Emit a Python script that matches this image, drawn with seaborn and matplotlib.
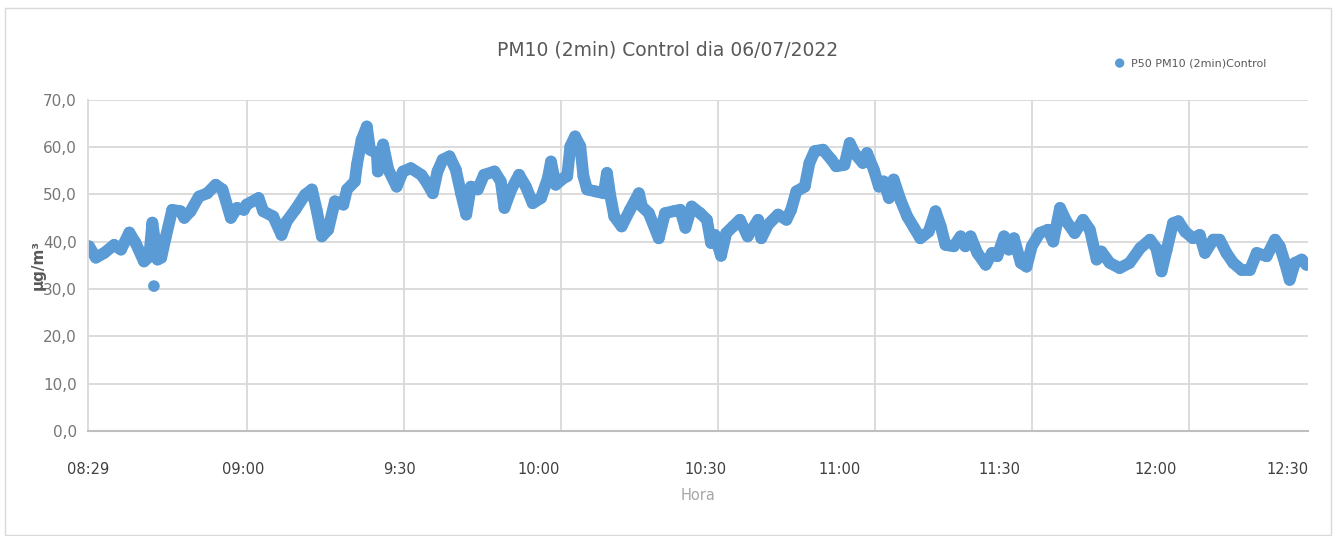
import matplotlib
matplotlib.use("Agg")
import matplotlib.pyplot as plt
import seaborn as sns
import pandas as pd
from matplotlib.patches import Rectangle

# ================= DATA =================
# minutes after 08:29 and PM10 concentration (ug/m3)
minutos = [0.8, 2.1, 3.7, 5.6, 6.9, 8.5, 9.7, 11.3, 12.3, 12.9, 13.9, 14.6, 15.5,
           16.7, 18.3, 19.0, 20.2, 21.8, 23.4, 25.0, 26.3, 27.9, 29.1, 30.4, 30.9,
           33.2, 34.1, 36.0, 37.6, 38.6, 40.2, 42.1, 43.4, 44.3, 45.3, 46.5, 47.8,
           49.4, 50.1, 51.6, 52.0, 52.9, 53.9, 54.5, 55.8, 56.0, 57.0, 58.0, 59.6,
           60.8, 62.3, 64.3, 65.2, 66.5, 67.4, 68.4, 69.7, 70.9, 71.9, 72.9, 73.8,
           75.1, 76.3, 78.3, 79.5, 80.2, 81.5, 83.0, 84.3, 85.6, 87.2, 88.5, 89.1,
           90.0, 91.5, 92.2, 92.8, 93.7, 94.7, 95.3, 96.0, 97.6, 99.2, 99.8, 100.4,
           101.2, 102.6, 104.2, 105.9, 106.5, 107.8, 109.7, 110.9, 112.5, 113.8,
           114.8, 116.0, 117.6, 118.9, 119.7, 120.4, 121.6, 122.6, 123.9, 125.2,
           126.7, 128.7, 129.3, 130.6, 132.5, 134.1, 135.0, 136.0, 137.6, 138.5,
           139.5, 141.1, 142.7, 143.6, 145.2, 146.2, 147.1, 148.7, 149.5, 150.8,
           151.8, 152.7, 153.7, 154.6, 155.9, 157.2, 158.5, 159.7, 161.3, 162.6,
           163.6, 164.5, 166.1, 167.4, 168.3, 169.3, 170.6, 172.2, 173.4, 174.4,
           175.7, 176.6, 177.6, 178.9, 180.0, 181.0, 182.5, 184.1, 185.1, 186.4,
           187.6, 189.2, 190.8, 192.1, 193.4, 194.3, 195.9, 197.8, 199.7, 201.7,
           203.6, 204.8, 205.8, 206.8, 208.0, 209.0, 210.3, 211.8, 213.1, 214.1,
           215.7, 216.9, 218.2, 219.5, 221.1, 222.7, 224.0, 225.9, 227.5, 228.4,
           229.4, 230.3, 231.3, 232.6, 233.5]
pm10 = [39.0, 36.6, 37.6, 39.3, 38.3, 41.9, 39.7, 35.8, 36.8, 44.0, 36.2, 36.6, 41.1,
        46.7, 46.4, 45.0, 46.4, 49.5, 50.2, 52.0, 51.0, 45.0, 47.1, 46.7, 47.8,
        49.2, 46.4, 45.3, 41.4, 44.3, 46.7, 49.9, 51.0, 46.7, 41.1, 42.5, 48.5,
        47.8, 51.0, 52.7, 56.2, 61.5, 64.3, 59.4, 58.7, 54.8, 60.5, 55.2, 51.6,
        54.8, 55.5, 54.1, 52.7, 50.2, 54.8, 57.3, 58.0, 55.2, 50.2, 45.7, 51.6,
        51.0, 54.1, 54.8, 52.7, 47.1, 51.0, 54.1, 51.6, 48.1, 49.2, 53.4, 56.9,
        52.0, 53.4, 53.8, 60.1, 62.2, 60.1, 53.8, 51.0, 50.6, 50.2, 54.5, 49.9,
        45.3, 43.2, 46.7, 50.2, 47.4, 46.0, 40.7, 46.0, 46.4, 46.7,
        42.9, 47.4, 46.0, 44.6, 39.7, 41.4, 37.0, 41.8, 43.2, 44.6,
        41.1, 44.6, 40.7, 43.6, 45.7, 44.6, 46.7, 50.6, 51.6, 56.6,
        59.1, 59.4, 57.3, 55.9, 56.2, 60.8, 58.7, 56.6, 58.7, 55.2,
        51.6, 52.7, 49.2, 53.1, 48.8, 45.3, 42.9, 40.7, 42.1, 46.4,
        43.2, 39.3, 39.0, 41.1, 39.0, 41.1, 37.6, 35.1, 37.6, 36.9,
        41.1, 38.3, 40.7, 35.5, 34.7, 39.0, 41.8, 42.5, 40.0, 47.1,
        44.3, 41.8, 44.6, 42.5, 36.2, 37.9, 35.5, 34.4, 35.5, 38.6,
        40.4, 38.6, 33.7, 38.3, 43.9, 44.3, 42.1, 40.7, 41.4, 37.6,
        40.4, 40.4, 37.6, 35.5, 34.0, 34.0, 37.6, 36.9, 40.4, 39.0,
        35.5, 31.9, 35.5, 36.2, 35.1]
# isolated low reading near 08:42
atipico_min = [13.2]
atipico_val = [30.6]

hora_labels = ["08:29", "09:00", "9:30", "10:00", "10:30", "11:00", "11:30", "12:00", "12:30"]
y_ticks = [0, 10, 20, 30, 40, 50, 60, 70]

# ================= LAYOUT =================
label_pos = [0.6, 30.2, 60.1, 86.8, 118.7, 144.3, 174.9, 204.7, 229.8]
grid_pos = [31, 61, 91, 121, 151, 181, 211]
AZUL = "#5B9BD5"
GRIS = "#595959"

df = pd.DataFrame({"min": minutos, "pm10": pm10})
df_all = pd.concat([df, pd.DataFrame({"min": atipico_min, "pm10": atipico_val})])

fig = plt.figure(figsize=(13.36, 5.36), dpi=100)
ax = fig.add_axes([88 / 1336, 1 - 431 / 536, (1308 - 88) / 1336, (431 - 99.5) / 536])

sns.lineplot(x="min", y="pm10", data=df, ax=ax, color=AZUL, linewidth=8.5,
             solid_capstyle="round", solid_joinstyle="round", legend=False)
sns.scatterplot(x="min", y="pm10", data=df_all, ax=ax, color=AZUL, s=70,
                edgecolor="none", label="P50 PM10 (2min)Control")

ax.set_xlim(0.6, 233.8)
ax.set_ylim(0, 70)
ax.set_yticks(y_ticks)
ax.set_yticklabels([f"{v:.1f}".replace(".", ",") for v in y_ticks], color="#767676", fontsize=11)
ax.set_xticks(grid_pos)
ax.set_xticklabels([])
ax.set_xticks(label_pos, minor=True)
ax.set_xticklabels(hora_labels, minor=True, color="#404040", fontsize=10.5)
ax.tick_params(axis="x", which="both", length=0, pad=22)
ax.tick_params(axis="y", length=0, pad=8)
ax.grid(True, which="major", color="#d9d9d9", linewidth=1.3)
ax.set_axisbelow(True)
for s in ["top", "right"]:
    ax.spines[s].set_visible(False)
ax.spines["left"].set_color("#d9d9d9")
ax.spines["left"].set_linewidth(1.3)
ax.spines["bottom"].set_color("#bfbfbf")
ax.spines["bottom"].set_linewidth(1.5)
ax.set_xlabel("")
ax.set_ylabel("")

ax.legend(loc="center left", bbox_to_anchor=(1103 / 1336, 1 - 63 / 536),
          bbox_transform=fig.transFigure, frameon=False, fontsize=8,
          handletextpad=0.05, borderpad=0, markerscale=0.8, labelcolor=GRIS)

fig.text(0.5, 1 - 50 / 536, "PM10 (2min) Control dia 06/07/2022", ha="center",
         va="center", fontsize=13.5, color=GRIS)
fig.text(38 / 1336, 0.505, "μg/m³", rotation=90, ha="center", va="center",
         fontsize=11, fontweight="bold", color=GRIS)
fig.text(698 / 1336, 1 - 495 / 536, "Hora", ha="center", va="center",
         fontsize=10.5, color="#a6a6a6")

fig.patches.append(Rectangle((5 / 1336, 1 / 536), 1326 / 1336, 527 / 536,
                             transform=fig.transFigure, fill=False,
                             edgecolor="#d9d9d9", linewidth=1))

plt.savefig("out.png", dpi=100)
plt.close()
